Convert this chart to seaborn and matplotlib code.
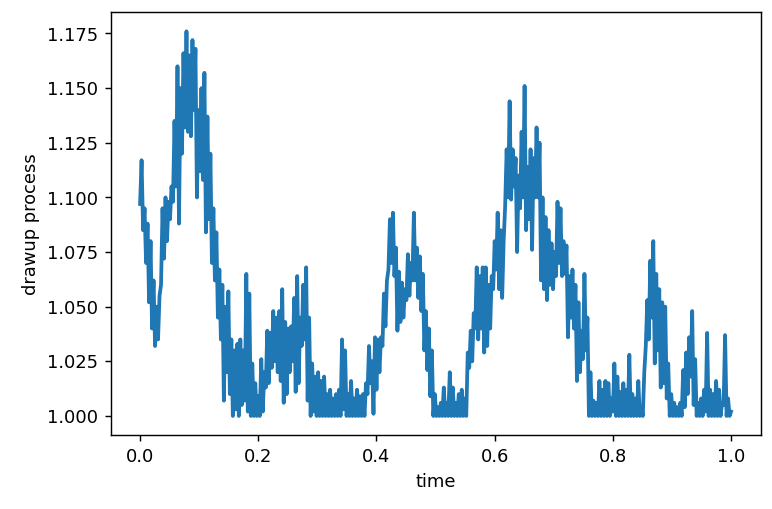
import numpy as np
import seaborn as sns
import matplotlib.pyplot as plt

# drawup values, alternating low / high of the noisy band
drawup = [
    1.097, 1.117, 1.085, 1.095, 1.070, 1.088, 1.052, 1.080, 1.040, 1.062,
    1.032, 1.050, 1.035, 1.055, 1.060, 1.095, 1.072, 1.100, 1.080, 1.098,
    1.090, 1.105, 1.098, 1.135, 1.105, 1.160, 1.088, 1.150, 1.120, 1.166,
    1.132, 1.176, 1.130, 1.165, 1.128, 1.172, 1.140, 1.168, 1.100, 1.140,
    1.112, 1.150, 1.108, 1.157, 1.084, 1.137, 1.090, 1.120, 1.070, 1.095,
    1.062, 1.084, 1.045, 1.067, 1.035, 1.060, 1.007, 1.050, 1.020, 1.057,
    1.010, 1.035, 1.000, 1.030, 1.003, 1.033, 1.000, 1.035, 1.005, 1.030,
    1.007, 1.065, 1.002, 1.056, 1.000, 1.024, 1.000, 1.015, 1.000, 1.009,
    1.000, 1.026, 1.002, 1.020, 1.013, 1.039, 1.015, 1.038, 1.022, 1.048,
    1.025, 1.045, 1.020, 1.048, 1.016, 1.058, 1.006, 1.043, 1.010, 1.040,
    1.020, 1.041, 1.025, 1.054, 1.011, 1.064, 1.015, 1.045, 1.032, 1.060,
    1.035, 1.068, 1.007, 1.045, 1.000, 1.024, 1.002, 1.018, 1.000, 1.020,
    1.000, 1.016, 1.000, 1.018, 1.000, 1.010, 1.000, 1.012, 1.000, 1.008,
    1.000, 1.010, 1.000, 1.012, 1.000, 1.035, 1.003, 1.030, 1.000, 1.010,
    1.000, 1.016, 1.000, 1.008, 1.000, 1.012, 1.000, 1.009, 1.000, 1.010,
    1.000, 1.015, 1.010, 1.032, 1.015, 1.025, 1.001, 1.036, 1.012, 1.035,
    1.020, 1.036, 1.032, 1.056, 1.041, 1.062, 1.067, 1.090, 1.070, 1.093,
    1.064, 1.077, 1.039, 1.066, 1.043, 1.061, 1.045, 1.058, 1.053, 1.074,
    1.055, 1.070, 1.062, 1.093, 1.062, 1.077, 1.054, 1.073, 1.048, 1.065,
    1.030, 1.048, 1.021, 1.040, 1.009, 1.030, 1.000, 1.010, 1.000, 1.004,
    1.000, 1.006, 1.000, 1.013, 1.000, 1.006, 1.000, 1.020, 1.000, 1.013,
    1.000, 1.006, 1.000, 1.010, 1.000, 1.012, 1.000, 1.008, 1.000, 1.029,
    1.022, 1.039, 1.025, 1.047, 1.040, 1.068, 1.035, 1.064, 1.040, 1.068,
    1.029, 1.068, 1.032, 1.060, 1.040, 1.064, 1.058, 1.080, 1.067, 1.093,
    1.058, 1.085, 1.054, 1.080, 1.096, 1.122, 1.100, 1.144, 1.099, 1.122,
    1.105, 1.118, 1.075, 1.110, 1.095, 1.130, 1.100, 1.151, 1.085, 1.114,
    1.090, 1.122, 1.076, 1.118, 1.100, 1.132, 1.100, 1.125, 1.062, 1.100,
    1.058, 1.091, 1.053, 1.085, 1.060, 1.079, 1.058, 1.075, 1.064, 1.098,
    1.070, 1.095, 1.064, 1.080, 1.065, 1.078, 1.036, 1.064, 1.045, 1.067,
    1.040, 1.060, 1.016, 1.052, 1.020, 1.039, 1.026, 1.065, 1.030, 1.045,
    1.000, 1.020, 1.000, 1.007, 1.000, 1.006, 1.000, 1.016, 1.000, 1.012,
    1.000, 1.016, 1.000, 1.015, 1.000, 1.008, 1.002, 1.024, 1.000, 1.018,
    1.000, 1.011, 1.000, 1.015, 1.000, 1.012, 1.000, 1.028, 1.000, 1.010,
    1.000, 1.008, 1.000, 1.016, 1.000, 1.004, 1.000, 1.020, 1.032, 1.053,
    1.035, 1.071, 1.045, 1.080, 1.024, 1.065, 1.030, 1.058, 1.013, 1.052,
    1.015, 1.050, 1.008, 1.024, 1.000, 1.010, 1.000, 1.006, 1.000, 1.004,
    1.000, 1.006, 1.000, 1.021, 1.004, 1.029, 1.010, 1.036, 1.018, 1.048,
    1.005, 1.026, 1.000, 1.006, 1.000, 1.008, 1.000, 1.012, 1.002, 1.038,
    1.000, 1.012, 1.000, 1.010, 1.000, 1.016, 1.000, 1.012, 1.000, 1.006,
    1.005, 1.037, 1.000, 1.008, 1.000, 1.002,
]
time = np.linspace(0, 1, len(drawup))

fig = plt.figure(figsize=(6.0, 3.952), dpi=128.83)
ax = sns.lineplot(x=time, y=drawup, color='#1f77b4', linewidth=2.1, estimator=None)
ax.set_xlabel('time')
ax.set_ylabel('drawup process')
plt.subplots_adjust(left=0.143, right=0.984, bottom=0.145, top=0.976)
plt.savefig('out.png', dpi=128.83)
